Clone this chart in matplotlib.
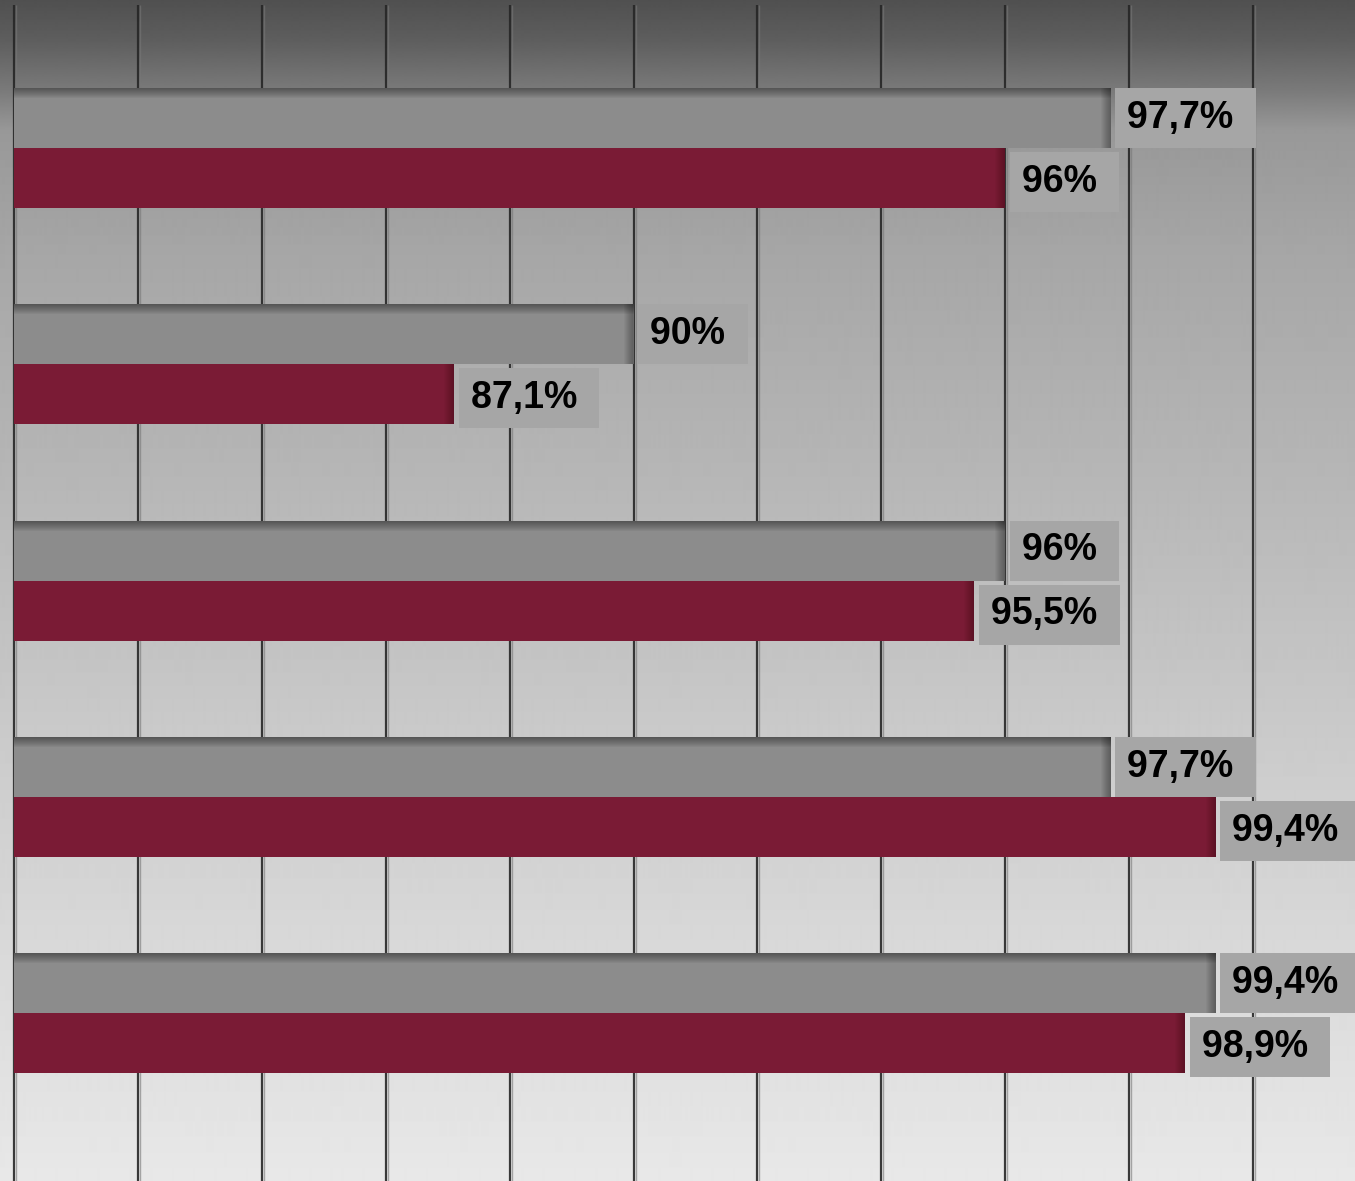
import matplotlib
matplotlib.use('Agg')
import matplotlib.pyplot as plt
import numpy as np

# data (top group first)
groups = ['G1', 'G2', 'G3', 'G4', 'G5']
gray_vals = [97.7, 90.0, 96.0, 97.7, 99.4]
red_vals = [96.0, 87.1, 95.5, 99.4, 98.9]
gray_labels = ['97,7%', '90%', '96%', '97,7%', '99,4%']
red_labels = ['96%', '87,1%', '95,5%', '99,4%', '98,9%']
grid_ticks = np.arange(80, 101, 2)

x_min = 80
gray_col = '#8c8c8c'
red_col = '#7a1b35'
box_col = '#a6a6a6'

fig = plt.figure(figsize=(13.55, 11.81), dpi=100)
ax = fig.add_axes([0, 0, 1, 1])

px_per_unit = 61.95
band = 216.25
xlim = (x_min - 14 / px_per_unit, x_min + 1341 / px_per_unit)
ylim = (-148 / band, (1181 - 148) / band)
ax.set_xlim(xlim)
ax.set_ylim(ylim[1], ylim[0])

# background gradient (fast darkening near the top)
stops_px = [0, 40, 90, 130, 250, 500, 800, 1181]
stops_v = [0x50, 0x5e, 0x7a, 0x98, 0xa6, 0xb8, 0xcf, 0xe8]
rows = np.interp(np.arange(1181), stops_px, stops_v) / 255.0
grad = np.repeat(rows[:, None], 2, axis=1)
ax.imshow(grad, cmap='gray', vmin=0, vmax=1, aspect='auto',
          extent=[xlim[0], xlim[1], ylim[1], ylim[0]], zorder=0,
          interpolation='bilinear')

# vertical gridlines
ax.vlines(grid_ticks, ylim[0] + 5 / band, ylim[1], color='#262626',
          linewidth=1.6, alpha=0.9, zorder=1)
ax.vlines(grid_ticks + 2 / px_per_unit, ylim[0] + 5 / band, ylim[1],
          color='#777777', linewidth=1.0, alpha=0.6, zorder=1)

y = np.arange(len(groups))
h = 60 / band
gray_w = np.array(gray_vals) - x_min
red_w = np.array(red_vals) - x_min

ax.barh(y - h / 2, gray_w, height=h, left=x_min, color=gray_col, zorder=2)
ax.barh(y + h / 2, red_w, height=h, left=x_min, color=red_col, zorder=2)

# inner shadow along the top and right end of the gray bars
for i in range(10):
    s = (10 - i) / band
    ax.barh(y - h, gray_w, height=s, left=x_min, align='edge',
            color='black', alpha=0.045, zorder=3, linewidth=0)
    w = (10 - i) / px_per_unit
    ax.barh(y - h, w, height=h, left=np.array(gray_vals) - w, align='edge',
            color='black', alpha=0.035, zorder=3, linewidth=0)
    ax.barh(y, w, height=h, left=np.array(red_vals) - w, align='edge',
            color='black', alpha=0.025, zorder=3, linewidth=0)

font = dict(family=['Liberation Sans', 'DejaVu Sans'], fontsize=27,
            fontweight='bold', color='black')
box = dict(boxstyle='square,pad=0.32', facecolor=box_col, edgecolor='none')
for yi, v, lab in zip(y, gray_vals, gray_labels):
    ax.annotate(lab + ' ', (v, yi - h / 2), xytext=(12, 0),
                textcoords='offset points', ha='left', va='center',
                bbox=box, zorder=5, **font)
for yi, v, lab in zip(y, red_vals, red_labels):
    ax.annotate(lab + ' ', (v, yi + h / 2 + 4 / band), xytext=(12, 0),
                textcoords='offset points', ha='left', va='center',
                bbox=box, zorder=4, **font)

ax.axis('off')
fig.savefig('out.png', dpi=100)
